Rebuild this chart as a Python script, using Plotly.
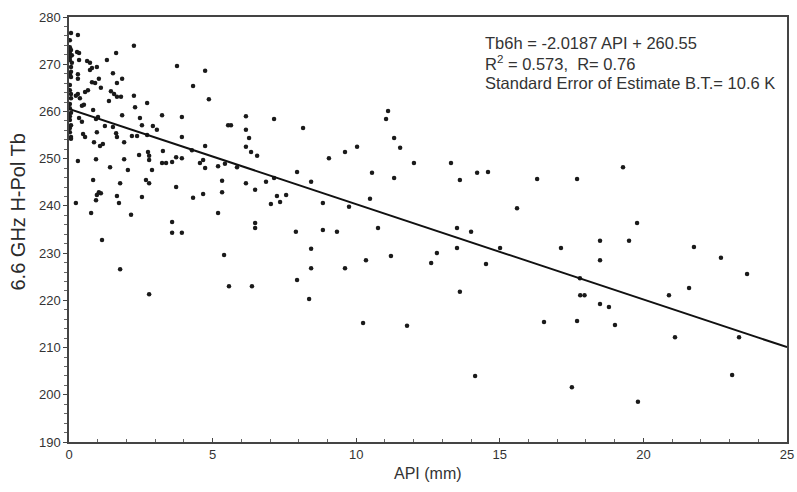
import plotly.graph_objects as go

api_mm = [
    0.07, 0.31, 0.03, 0.03, 0.07, 0.28, 0.35, 0.03, 1.64, 2.26,
    0.03, 0.03, 0.10, 0.35, 0.63, 0.73, 0.80, 1.32, 0.97, 0.73,
    0.07, 0.07, 0.07, 0.31, 0.31, 1.04, 0.80, 0.91, 1.53, 1.67,
    1.85, 3.76, 4.32, 0.66, 0.56, 1.11, 1.46, 1.57, 1.67, 1.81,
    0.24, 0.38, 0.31, 0.07, 0.03, 0.03, 2.26, 0.45, 0.52, 0.84,
    1.39, 2.30, 2.72, 0.03, 0.07, 0.03, 1.85, 3.24, 0.35, 0.45,
    0.03, 0.03, 1.01, 0.94, 1.25, 1.53, 1.64, 1.67, 2.47, 2.54,
    2.92, 3.06, 3.93, 3.93, 0.03, 0.07, 0.07, 0.49, 0.56, 0.97,
    0.87, 1.08, 1.18, 1.92, 2.19, 2.37, 2.72, 0.31, 0.94, 1.43,
    1.92, 2.05, 2.44, 2.75, 2.79, 2.79, 2.89, 3.27, 3.24, 3.38,
    3.59, 3.73, 3.93, 4.28, 0.84, 1.04, 1.11, 1.78, 2.68, 2.79,
    1.67, 3.73, 0.97, 0.24, 0.94, 1.74, 2.54, 0.77, 2.16, 3.59,
    3.59, 3.93, 1.15, 1.78, 2.79,
    0.03, 0.07, 0.07, 0.03, 0.10,
    4.74, 4.87, 5.54, 5.64, 6.16, 6.16, 6.27, 6.16, 6.34, 6.55,
    7.14, 8.15, 11.11, 11.04, 11.32, 11.53, 12.01, 10.03, 9.61, 9.05,
    10.55, 11.32, 7.94, 8.43, 4.74, 4.56, 4.67, 4.74, 5.19, 5.43,
    5.85, 5.33, 5.33, 4.67, 4.32, 6.16, 6.48, 6.86, 7.14, 7.24,
    7.56, 7.35, 7.03, 8.84, 9.75, 10.48, 5.19, 6.48, 6.48, 7.90,
    8.84, 9.33, 10.76, 5.40, 8.43, 10.34, 11.21, 8.43, 9.61, 5.57,
    6.37, 7.94, 8.36, 10.24,
    13.30, 13.61, 14.21, 14.59, 16.30, 17.69, 19.29, 15.60, 19.78, 13.51,
    14.00, 12.81, 13.51, 12.61, 14.52, 15.01, 17.13, 18.49, 19.50, 18.49,
    21.76, 22.70, 23.61, 17.79, 17.80, 17.95, 18.49, 18.80, 20.89, 21.59,
    13.61, 11.77, 16.54, 17.69, 19.01, 21.10, 23.33, 14.14, 17.51, 19.81,
    23.09,
]

tb_6h = [
    276.6, 276.2, 275.1, 273.6, 273.0, 272.6, 272.4, 272.4, 272.4, 273.9,
    271.5, 270.9, 270.3, 270.9, 270.7, 270.3, 269.2, 270.9, 269.4, 268.8,
    269.4, 268.4, 267.3, 266.9, 267.9, 266.9, 266.2, 266.0, 268.1, 266.0,
    266.9, 269.6, 265.4, 264.5, 264.1, 265.0, 264.3, 263.7, 263.1, 263.1,
    263.3, 262.8, 263.7, 262.8, 265.6, 264.5, 263.3, 261.2, 261.4, 260.3,
    262.2, 260.9, 261.8, 260.7, 259.7, 261.6, 259.2, 259.2, 258.6, 257.8,
    258.2, 259.0, 258.8, 258.4, 256.9, 256.7, 255.4, 254.6, 258.6, 257.1,
    256.9, 256.1, 258.8, 254.6, 255.6, 254.6, 254.2, 255.2, 254.6, 255.6,
    253.5, 252.7, 253.1, 253.5, 254.8, 254.8, 255.0, 249.5, 249.9, 248.2,
    249.9, 247.6, 250.8, 251.4, 250.6, 249.7, 247.6, 251.6, 249.1, 249.1,
    249.3, 250.3, 250.1, 251.8, 245.5, 242.9, 242.7, 244.8, 245.5, 244.8,
    242.1, 244.0, 242.3, 240.6, 241.2, 240.6, 241.9, 238.5, 238.1, 236.6,
    234.3, 234.3, 232.8, 226.6, 221.3,
    256.5, 257.1, 263.7, 267.9, 271.9,
    268.6, 262.6, 257.1, 257.1, 259.0, 256.1, 254.4, 252.5, 251.4, 250.6,
    258.4, 256.5, 260.1, 258.4, 254.4, 252.3, 249.1, 252.5, 251.4, 250.1,
    247.0, 245.9, 247.2, 245.1, 252.7, 249.1, 249.7, 248.0, 248.4, 248.9,
    248.2, 245.3, 242.9, 242.5, 241.7, 244.8, 243.4, 245.1, 245.9, 242.1,
    242.3, 240.8, 240.4, 240.6, 239.8, 241.5, 238.5, 236.4, 235.3, 234.5,
    234.9, 234.5, 235.3, 229.6, 230.9, 228.5, 229.4, 226.8, 226.8, 223.0,
    223.0, 224.3, 220.3, 215.2,
    249.1, 245.5, 247.0, 247.2, 245.7, 245.7, 248.2, 239.5, 236.4, 235.3,
    234.5, 230.0, 231.1, 227.9, 227.7, 231.1, 231.1, 232.6, 232.6, 228.5,
    231.3, 229.0, 225.6, 224.7, 221.1, 221.1, 219.2, 218.6, 221.1, 222.6,
    221.8, 214.6, 215.4, 215.6, 214.8, 212.2, 212.2, 204.0, 201.6, 198.5,
    204.2,
]

fit_slope = -2.0187
fit_intercept = 260.55
fit_x = [0, 25]
fit_y = [fit_intercept + fit_slope * v for v in fit_x]

x_ticks = [0, 5, 10, 15, 20, 25]
y_ticks = [190, 200, 210, 220, 230, 240, 250, 260, 270, 280]

font_family = "Liberation Sans, Arial, sans-serif"

fig = go.Figure()
fig.add_trace(go.Scatter(
    x=api_mm, y=tb_6h, mode="markers",
    marker=dict(color="#1a1a1a", size=4.5, line=dict(width=0)),
    showlegend=False, hoverinfo="x+y",
))
fig.add_trace(go.Scatter(
    x=fit_x, y=fit_y, mode="lines",
    line=dict(color="#111111", width=2),
    showlegend=False, hoverinfo="skip",
))

ann_lines = [
    "Tb6h = -2.0187 API + 260.55",
    "R<sup>2</sup> = 0.573,  R= 0.76",
    "Standard Error of Estimate B.T.= 10.6 K",
]
ann_y = [0.939, 0.892, 0.845]
for txt, yy in zip(ann_lines, ann_y):
    fig.add_annotation(
        text=txt, xref="paper", yref="paper", x=0.577, y=yy,
        xanchor="left", yanchor="middle", showarrow=False,
        font=dict(family=font_family, size=16.5, color="#333333"),
    )

# axis titles
fig.add_annotation(
    text="API (mm)", xref="paper", yref="paper", x=0.5, y=-0.075,
    xanchor="center", yanchor="middle", showarrow=False,
    font=dict(family=font_family, size=16, color="#333333"),
)
fig.add_annotation(
    text="6.6 GHz H-Pol Tb", xref="paper", yref="paper", x=-0.071, y=0.54,
    xanchor="center", yanchor="middle", showarrow=False, textangle=-90,
    font=dict(family=font_family, size=20, color="#2a2a2a"),
)

fig.update_layout(
    width=797, height=492,
    margin=dict(l=69, r=10, t=17, b=50, autoexpand=False),
    paper_bgcolor="white", plot_bgcolor="white",
    font=dict(family=font_family, size=13, color="#333333"),
    xaxis=dict(
        range=[0, 25], tickvals=x_ticks, ticks="inside", ticklen=4,
        tickcolor="#444", showgrid=False, zeroline=False, automargin=False,
        showline=True, linecolor="#444", linewidth=1.5, mirror=True,
        minor=dict(dtick=1, ticks="inside", ticklen=3, tickcolor="#666"),
        tickfont=dict(size=13, color="#333"),
    ),
    yaxis=dict(
        range=[190, 280], tickvals=y_ticks, ticks="outside", ticklen=4,
        tickcolor="#444", showgrid=False, zeroline=False, automargin=False,
        showline=True, linecolor="#444", linewidth=1.5, mirror=True,
        minor=dict(dtick=2, ticks="outside", ticklen=3, tickcolor="#666"),
        tickfont=dict(size=13, color="#333"),
    ),
)

fig.write_html(
    "out.html",
    config={"displayModeBar": False},
    post_script="document.body.style.margin='0';document.body.style.overflow='hidden';",
)
